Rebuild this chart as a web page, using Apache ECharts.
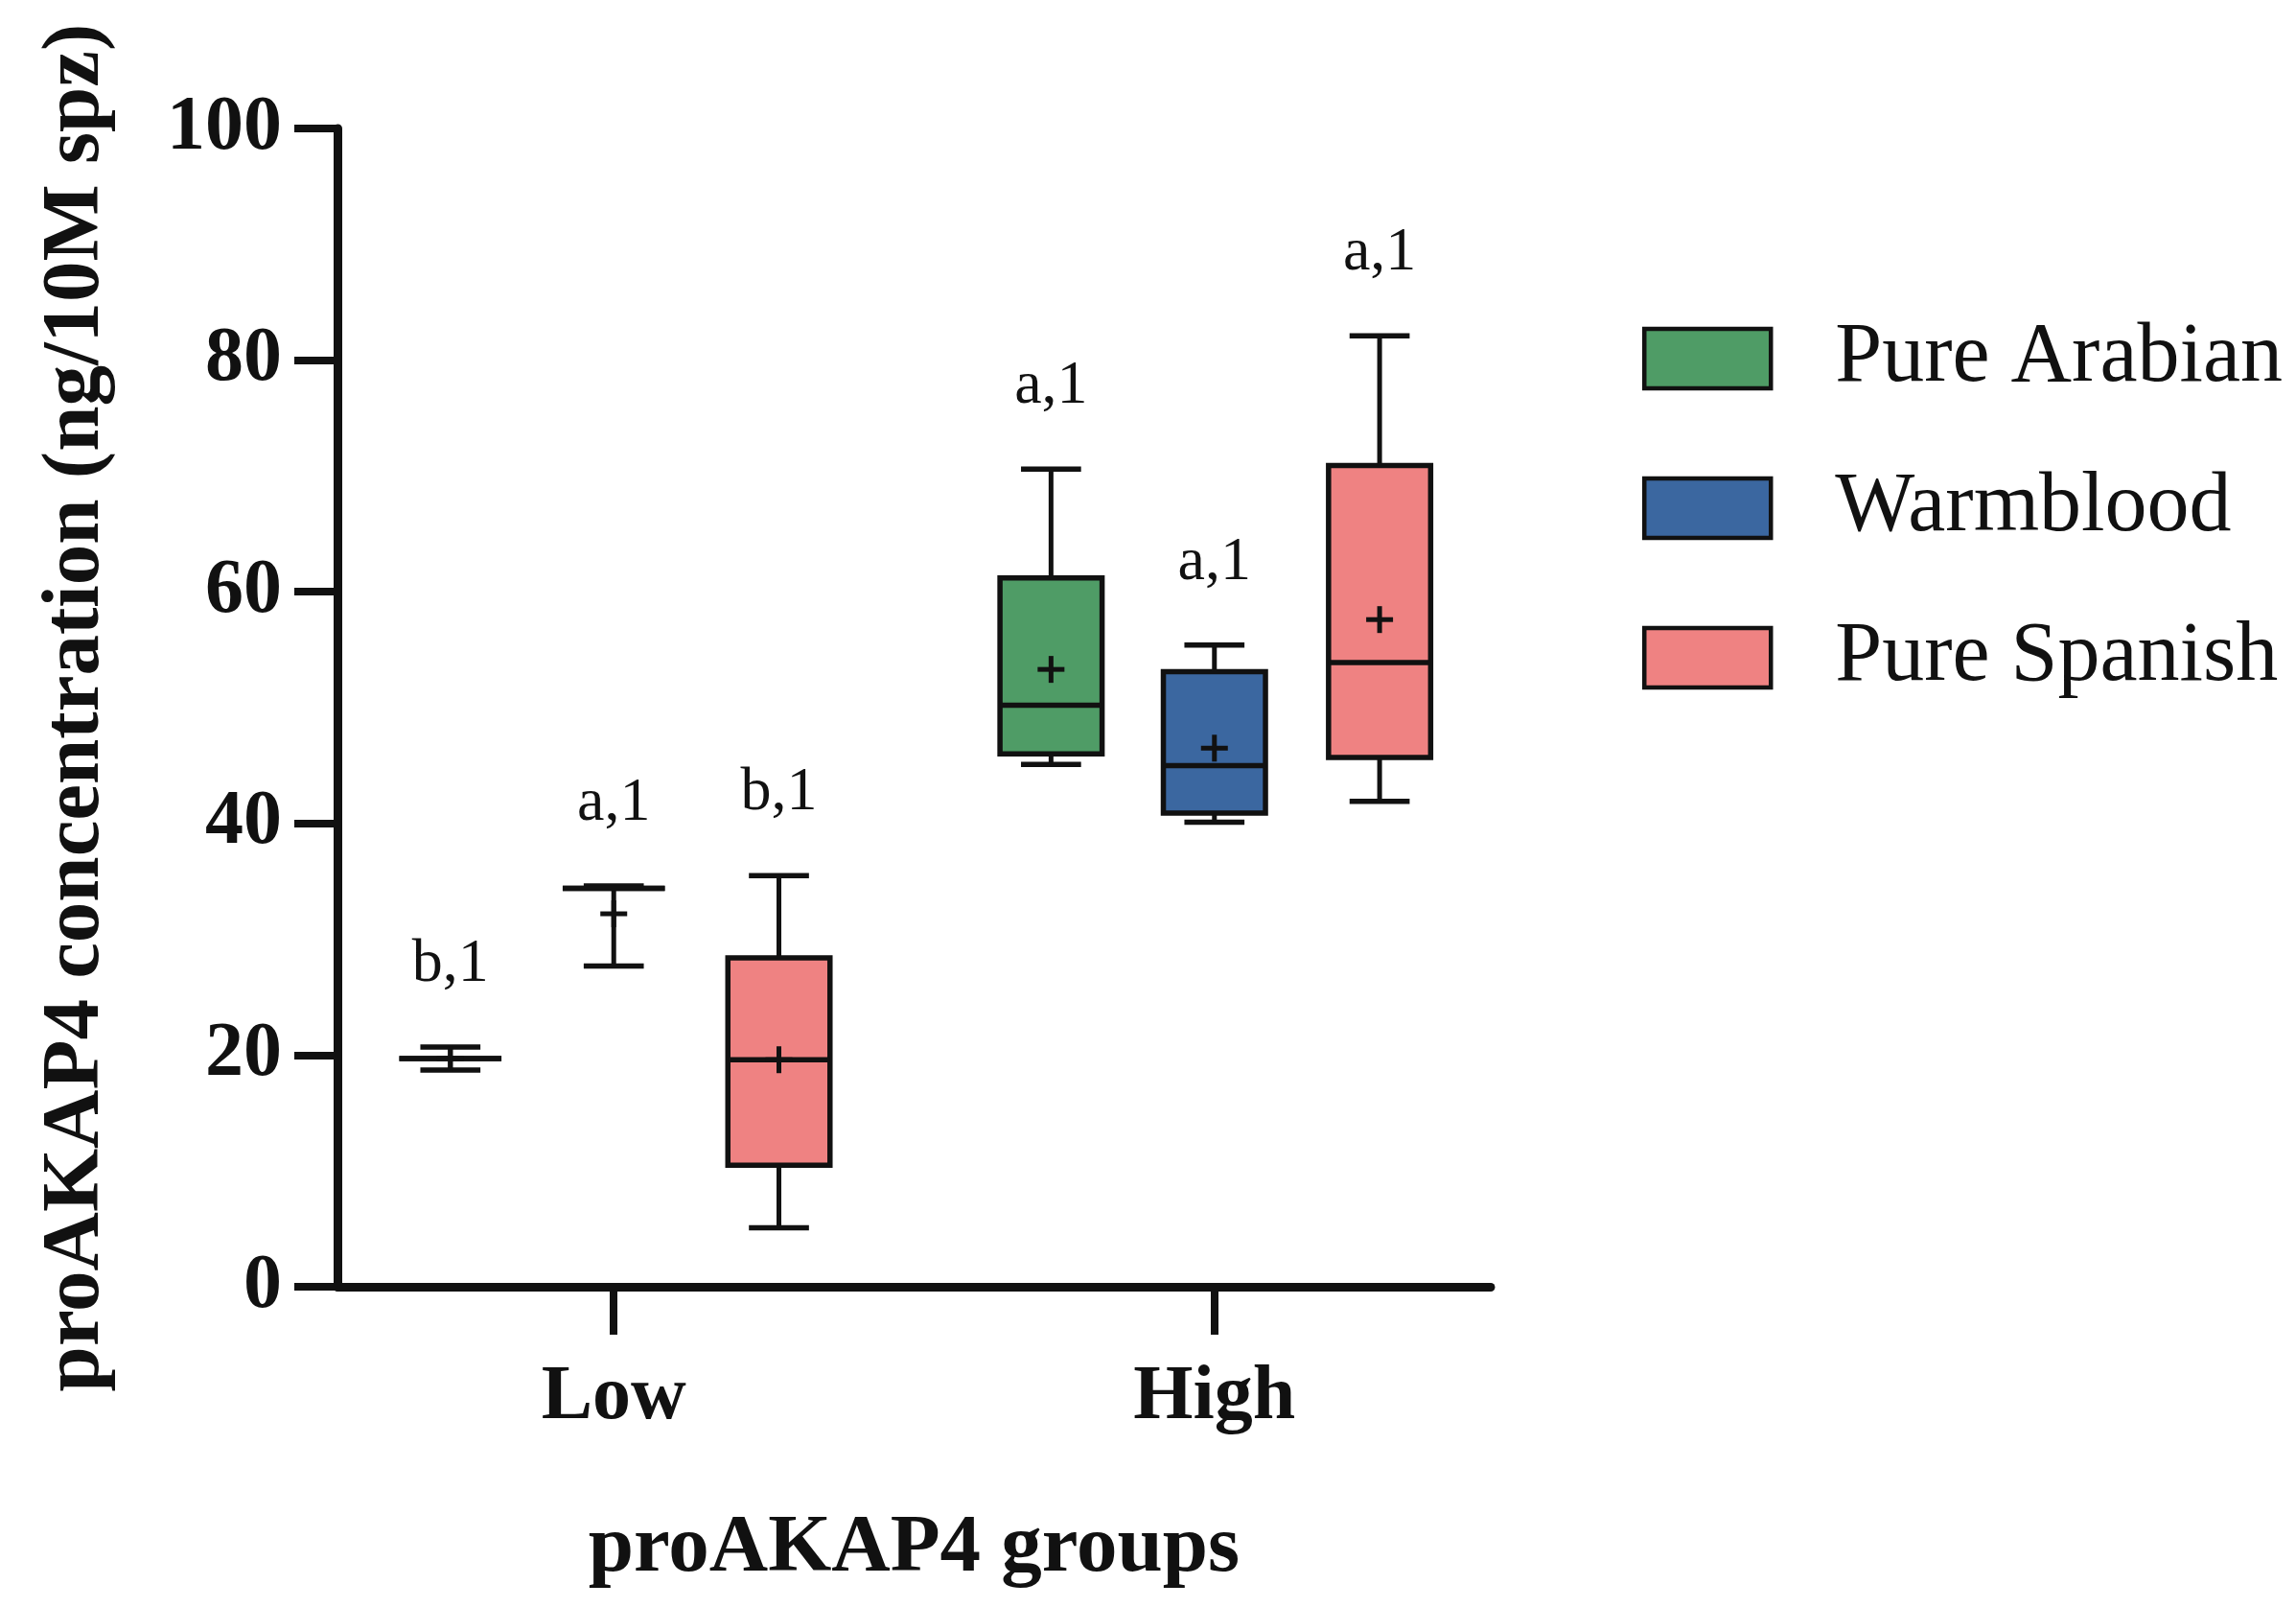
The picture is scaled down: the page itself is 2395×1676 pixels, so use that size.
<!DOCTYPE html>
<html>
<head>
<meta charset="utf-8">
<script src="https://cdn.jsdelivr.net/npm/echarts@6/dist/echarts.min.js"></script>
<style>
html,body{margin:0;padding:0;background:#fff;}
#chart{width:2395px;height:1676px;}
</style>
</head>
<body>
<div id="chart"></div>
<script>
// Groups on the x axis
const groups = ['Low', 'High'];
const seriesNames = ['Pure Arabian', 'Warmblood', 'Pure Spanish'];
// Each row: [min, Q1, median, Q3, max, mean] for groups Low, High
const arabianStats = [
  [18.7, 19.7, 19.7, 19.7, 20.7, 19.7],
  [45.1, 46.0, 50.2, 61.2, 70.6, 53.3]
];
const warmbloodStats = [
  [27.7, 34.4, 34.4, 34.4, 34.6, 32.2],
  [40.1, 40.9, 45.0, 53.1, 55.4, 46.5]
];
const spanishStats = [
  [5.1, 10.5, 19.6, 28.4, 35.5, 19.6],
  [41.9, 45.7, 53.9, 70.9, 82.1, 57.6]
];
// Significance letters
const arabianLetters = ['b,1', 'a,1'];
const warmbloodLetters = ['a,1', 'a,1'];
const spanishLetters = ['b,1', 'a,1'];
const yTicks = [0, 20, 40, 60, 80, 100];

const colors = ['#4f9c66', '#3b67a0', '#ef8282'];
const FONT = 'Liberation Serif';

const statsList = [arabianStats, warmbloodStats, spanishStats];
const lettersList = [arabianLetters, warmbloodLetters, spanishLetters];
const offsets = [-0.272, 0, 0.275];
const BOX_W = 0.17, CAP_W = 0.1;

function makeData(stats) {
  return stats.map((s, gi) => [gi].concat(s));
}

function renderItem(params, api) {
  const si = params.seriesIndex;
  const gi = api.value(0);
  const x = gi + offsets[si];
  const vMin = api.value(1), q1 = api.value(2), med = api.value(3),
        q3 = api.value(4), vMax = api.value(5), mean = api.value(6);
  const c = api.coord([x, med]);
  const cx = c[0];
  const yOf = v => api.coord([x, v])[1];
  const halfBox = api.size([BOX_W, 0])[0] / 2;
  const halfCap = api.size([CAP_W, 0])[0] / 2;
  const yMin = yOf(vMin), yQ1 = yOf(q1), yMed = yOf(med), yQ3 = yOf(q3), yMax = yOf(vMax), yMean = yOf(mean);
  const line = (x1, y1, x2, y2, w) => ({
    type: 'line', shape: {x1, y1, x2, y2},
    style: {stroke: '#111', lineWidth: w, lineCap: 'butt'}
  });
  const children = [];
  // whiskers
  children.push(line(cx, yMax, cx, yQ3, 5));
  children.push(line(cx, yQ1, cx, yMin, 5));
  children.push(line(cx - halfCap, yMax, cx + halfCap, yMax, 5.5));
  children.push(line(cx - halfCap, yMin, cx + halfCap, yMin, 5.5));
  // box
  children.push({
    type: 'rect',
    shape: {x: cx - halfBox, y: yQ3, width: halfBox * 2, height: Math.max(yQ1 - yQ3, 0)},
    style: {fill: colors[si], stroke: '#111', lineWidth: 5.5}
  });
  // median
  children.push(line(cx - halfBox, yMed, cx + halfBox, yMed, 5.5));
  // mean plus
  children.push(line(cx - 14, yMean, cx + 14, yMean, 5));
  children.push(line(cx, yMean - 14, cx, yMean + 14, 5));
  // letter label above max
  children.push({
    type: 'text',
    style: {
      x: cx, y: yMax - 86, text: lettersList[si][params.dataIndex],
      fill: '#111', font: '64px "' + FONT + '"',
      align: 'center', verticalAlign: 'middle'
    }
  });
  return {type: 'group', children};
}

const chart = echarts.init(document.getElementById('chart'), null, {renderer: 'canvas'});
chart.setOption({
  animation: false,
  backgroundColor: '#fff',
  grid: {left: 352, right: 840, top: 134, bottom: 334, containLabel: false},
  legend: {
    orient: 'vertical',
    left: 1708, top: 325,
    itemWidth: 132, itemHeight: 62, itemGap: 68,
    icon: 'rect',
    data: seriesNames,
    itemStyle: {borderColor: '#111', borderWidth: 4.5},
    textStyle: {fontFamily: FONT, fontSize: 88, color: '#111', padding: [0, 0, 0, 62]}
  },
  xAxis: {
    type: 'value',
    min: -0.46, max: 1.46,
    splitLine: {show: false},
    axisLine: {show: true, onZero: false, lineStyle: {color: '#111', width: 9}},
    axisTick: {show: true, customValues: [0, 1], length: 50, lineStyle: {color: '#111', width: 8}},
    axisLabel: {
      customValues: [0, 1],
      formatter: v => groups[Math.round(v)],
      margin: 76,
      fontFamily: FONT, fontWeight: 'bold', fontSize: 80, color: '#111'
    },
    name: 'proAKAP4 groups',
    nameLocation: 'middle',
    nameGap: 232,
    nameTextStyle: {fontFamily: FONT, fontWeight: 'bold', fontSize: 85, color: '#111'}
  },
  yAxis: {
    type: 'value',
    min: 0, max: 100, interval: 20,
    splitLine: {show: false},
    axisLine: {show: true, onZero: false, lineStyle: {color: '#111', width: 9}},
    axisTick: {show: true, length: 45, lineStyle: {color: '#111', width: 8}},
    axisLabel: {
      margin: 58,
      formatter: v => yTicks.includes(v) ? String(v) : '',
      fontFamily: FONT, fontWeight: 'bold', fontSize: 80, color: '#111'
    },
    name: 'proAKAP4 concentration (ng/10M spz)',
    nameLocation: 'middle',
    nameGap: 272,
    nameTextStyle: {fontFamily: FONT, fontWeight: 'bold', fontSize: 85, color: '#111', verticalAlign: 'middle'}
  },
  series: seriesNames.map((name, i) => ({
    name,
    type: 'custom',
    coordinateSystem: 'cartesian2d',
    itemStyle: {color: colors[i], borderColor: '#111', borderWidth: 4},
    encode: {x: 0, y: [1, 2, 3, 4, 5, 6]},
    data: makeData(statsList[i]),
    renderItem
  }))
});
</script>
</body>
</html>
